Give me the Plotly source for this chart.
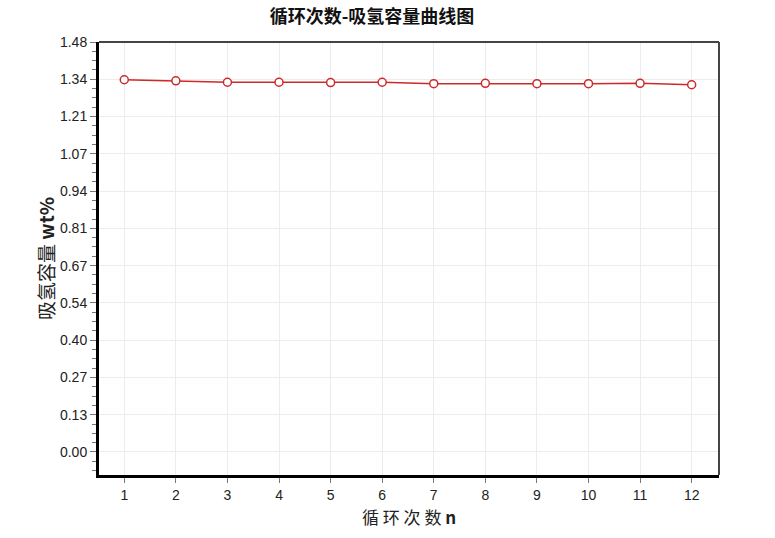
import plotly.graph_objects as go

cycles = [1, 2, 3, 4, 5, 6, 7, 8, 9, 10, 11, 12]
capacity = [1.341, 1.337, 1.332, 1.332, 1.331, 1.332, 1.327, 1.328, 1.327, 1.327, 1.328, 1.323]

title_text = "循环次数-吸氢容量曲线图"
x_title = "循 环 次 数 <b>n</b>"
y_title = "吸氢容量 <b>wt%</b>"

y_step = 1.477 / 11

fig = go.Figure()
fig.add_trace(go.Scatter(
    x=cycles, y=capacity, mode="lines+markers",
    line=dict(color="#cc2a2a", width=1.5),
    marker=dict(symbol="circle", size=8, color="white",
                line=dict(color="#cc2a2a", width=1.5)),
    showlegend=False,
))

fig.update_layout(
    width=775, height=538,
    margin=dict(l=99, r=56, t=42, b=63),
    paper_bgcolor="white", plot_bgcolor="white",
    title=dict(text="<b>" + title_text + "</b>", x=0.48, xanchor="center",
               y=1 - 17 / 538, yanchor="middle",
               font=dict(family="Noto Sans CJK SC", size=18, color="#111111")),
    font=dict(family="Liberation Sans, Arial", color="#222222"),
)

fig.update_xaxes(
    range=[0.51, 12.53], tickmode="linear", tick0=1, dtick=1,
    showgrid=True, gridcolor="#ececec", gridwidth=1,
    showline=True, linecolor="black", linewidth=3,
    ticks="outside", ticklen=5, tickcolor="#777777", tickwidth=1,
    tickfont=dict(family="Liberation Sans, Arial", size=14, color="#222222"),
    zeroline=False,
)

fig.add_annotation(
    text=x_title, xref="paper", yref="paper", x=0.5, y=-0.0947,
    xanchor="center", yanchor="middle", showarrow=False,
    font=dict(family="Noto Sans CJK SC", size=17, color="#222222"),
)

fig.update_yaxes(
    range=[-0.083, 1.477], tickmode="linear", tick0=0, dtick=y_step,
    tickformat=".2f",
    showgrid=True, gridcolor="#ececec", gridwidth=1,
    showline=True, linecolor="black", linewidth=3,
    ticks="outside", ticklen=6, tickcolor="#777777", tickwidth=1,
    minor=dict(dtick=y_step / 4, tick0=0, ticks="outside", ticklen=4,
               tickcolor="#777777", showgrid=False),
    tickfont=dict(family="Liberation Sans, Arial", size=14, color="#222222"),
    title=dict(text=y_title, standoff=1,
               font=dict(family="Noto Sans CJK SC", size=19, color="#222222")),
    zeroline=False,
)

# top and right borders (thinner, dark grey)
fig.add_shape(type="line", xref="paper", yref="paper", x0=0, x1=1, y0=1, y1=1,
              line=dict(color="#444444", width=2))
fig.add_shape(type="line", xref="paper", yref="paper", x0=1, x1=1, y0=0, y1=1,
              line=dict(color="#444444", width=2))

fig.write_html("out.html", config={"displayModeBar": False},
               post_script="document.body.style.margin='0';")
